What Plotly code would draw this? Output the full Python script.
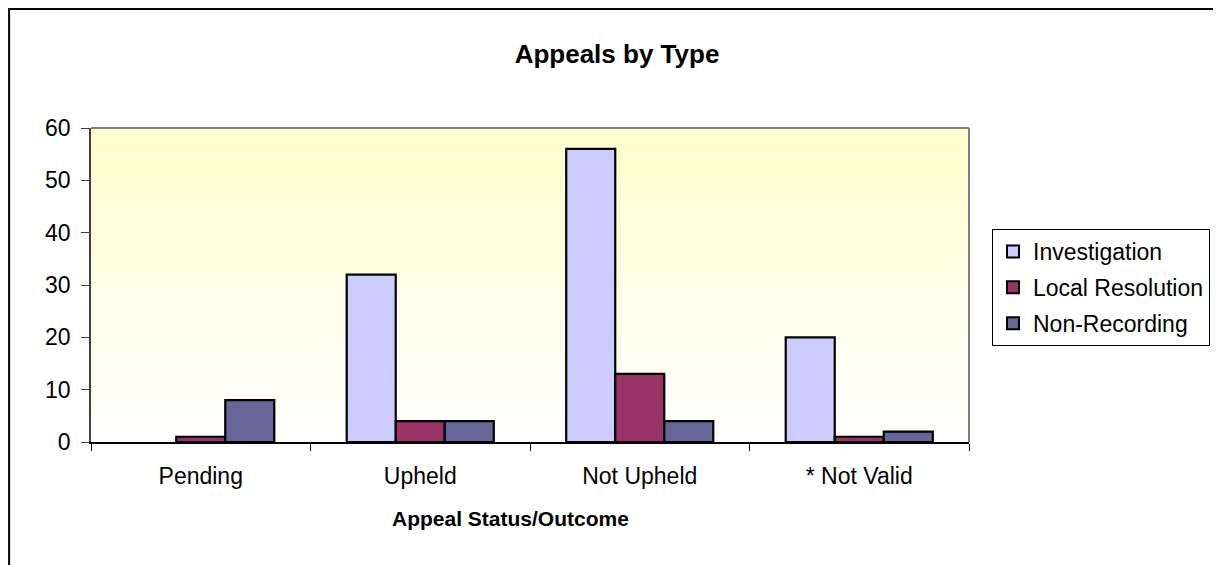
import plotly.graph_objects as go

categories = ["Pending", "Upheld", "Not Upheld", "* Not Valid"]
investigation = [None, 32, 56, 20]
local_resolution = [1, 4, 13, 1]
non_recording = [8, 4, 4, 2]
y_ticks = [0, 10, 20, 30, 40, 50, 60]

# page has an 8px body margin, so figure coords = page coords - 8
OFF = 8
W, H = 1221 - OFF, 565 - OFF
ML = 91 - OFF
MT = 128 - OFF
MR = W - (970 - OFF)
MB = H - (442 - OFF)
PW, PH = W - ML - MR, H - MT - MB

FONT = "Liberation Sans, Arial, sans-serif"

fig = go.Figure()
series = [("Investigation", investigation, "#CCCCFF"),
          ("Local Resolution", local_resolution, "#993366"),
          ("Non-Recording", non_recording, "#666699")]
for name, vals, col in series:
    fig.add_trace(go.Bar(x=categories, y=vals, name=name, legendgroup=name,
                         marker=dict(color=col, line=dict(color="black", width=2.2))))

shapes = []
# gradient background (light yellow top -> white bottom)
n = 60
for i in range(n):
    t = i / n
    t2 = (i + 1) / n
    b = int(round(255 - (255 - 204) * (t + t2) / 2))
    shapes.append(dict(type="rect", xref="paper", yref="paper", x0=0, x1=1,
                       y0=t, y1=t2, fillcolor=f"rgb(255,255,{b})",
                       line=dict(width=0), layer="below"))
# plot area border top/right
shapes.append(dict(type="line", xref="paper", yref="paper", x0=0, x1=1, y0=1, y1=1,
                   line=dict(color="#808080", width=2)))
shapes.append(dict(type="line", xref="paper", yref="paper", x0=1, x1=1, y0=0, y1=1,
                   line=dict(color="#808080", width=2)))
# outer chart border
shapes.append(dict(type="rect", xref="paper", yref="paper",
                   x0=(1 - ML) / PW, x1=(W + 20 - ML) / PW,
                   y0=-(MB + 20) / PH, y1=(H - MB - 1) / PH,
                   line=dict(color="black", width=2), fillcolor="rgba(0,0,0,0)"))

annotations = [dict(text="<b>Appeal Status/Outcome</b>", xref="paper", yref="paper",
                    x=(511 - 91) / PW, y=(442 - 518) / PH, xanchor="center", yanchor="middle",
                    showarrow=False, font=dict(size=21, family=FONT, color="black"))]

fig.update_layout(
    width=W, height=H,
    margin=dict(l=ML, r=MR, t=MT, b=MB),
    paper_bgcolor="white", plot_bgcolor="white",
    font=dict(family=FONT, color="black", size=23),
    title=dict(text="<b>Appeals by Type</b>", xref="container", yref="container",
               x=(617 - OFF) / W, xanchor="center", y=1 - (54 - OFF) / H, yanchor="middle",
               font=dict(size=26, family=FONT, color="black")),
    barmode="group", bargap=0.33, bargroupgap=0,
    showlegend=True,
    legend=dict(x=(992 - 91) / PW, y=(442 - 229) / PH, xanchor="left", yanchor="top",
                bgcolor="white", bordercolor="black", borderwidth=1,
                font=dict(size=23, family=FONT), tracegroupgap=3,
                itemsizing="constant"),
    shapes=shapes,
    annotations=annotations,
)
fig.update_xaxes(type="category", tickson="boundaries", ticks="outside", ticklen=7,
                 tickcolor="black", showline=True, linecolor="black", linewidth=1.5,
                 showgrid=False, tickfont=dict(size=23), ticklabelstandoff=13)
fig.update_yaxes(range=[0, 60], tickvals=y_ticks, ticks="outside", ticklen=8,
                 tickcolor="#404040", showline=True, linecolor="#404040", linewidth=1.5,
                 showgrid=False, zeroline=False, tickfont=dict(size=23),
                 ticklabelstandoff=6)

fig.write_html("out.html")
